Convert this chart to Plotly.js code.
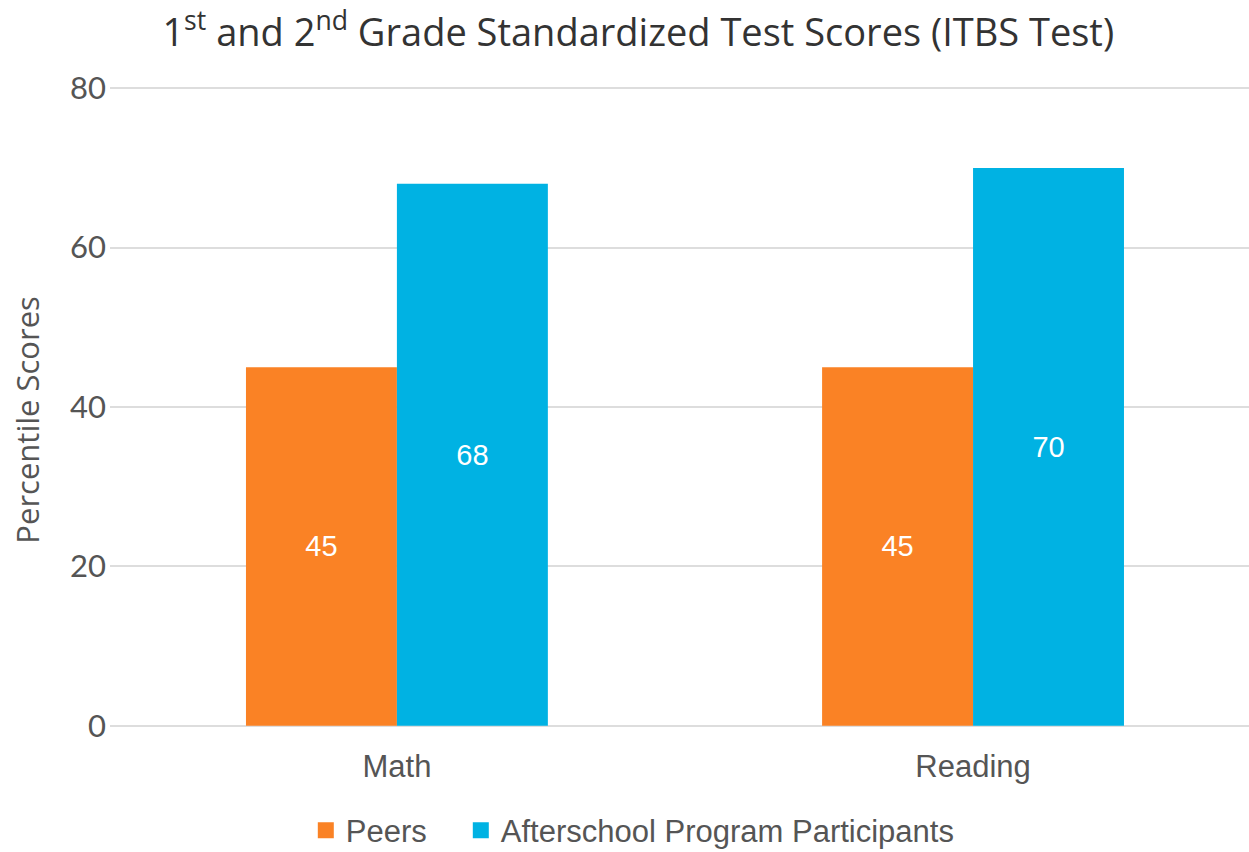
<!DOCTYPE html>
<html>
<head>
<meta charset="utf-8">
<script src="https://cdn.plot.ly/plotly-3.0.1.min.js"></script>
<style>html,body{margin:0;padding:0;background:#fff;}#chart{width:1249px;height:852px;}</style>
</head>
<body>
<div id="chart"></div>
<script>
const categories = ["Math", "Reading"];
const peers = [45, 45];
const participants = [68, 70];
const seriesNames = ["Peers", "Afterschool Program Participants"];
const seriesColors = ["#FA8225", "#00B2E3"];
const yTicks = [0, 20, 40, 60, 80];

const labelFont = {family: "Liberation Sans, Arial, sans-serif", size: 29, color: "#ffffff"};
const traces = [
  {
    type: "bar", name: seriesNames[0], x: categories, y: peers,
    marker: {color: seriesColors[0]}, showlegend: false,
    text: peers.map(String), textposition: "inside", insidetextanchor: "middle",
    textfont: labelFont, hoverinfo: "none"
  },
  {
    type: "bar", name: seriesNames[1], x: categories, y: participants,
    marker: {color: seriesColors[1]}, showlegend: false,
    text: participants.map(String), textposition: "inside", insidetextanchor: "middle",
    textfont: labelFont, hoverinfo: "none"
  }
];
// legend-only entries (no data points) so the legend squares can be larger
seriesNames.forEach((n, i) => traces.push({
  type: "scatter", mode: "markers", name: n, x: [null], y: [null],
  marker: {symbol: "square", size: 17, color: seriesColors[i]},
  showlegend: true, hoverinfo: "none",
  legendwidth: i === 0 ? 110 : undefined
}));

const layout = {
  width: 1249, height: 852,
  margin: {l: 110, r: 0, t: 87, b: 125, autoexpand: false},
  paper_bgcolor: "#ffffff", plot_bgcolor: "#ffffff",
  title: {
    text: "1<sup>st</sup> and 2<sup>nd</sup> Grade Standardized Test Scores (ITBS Test)",
    font: {family: "Open Sans, Noto Sans, sans-serif", size: 38, color: "#333333"},
    x: 0.511, xanchor: "center", y: 0.962, yanchor: "middle"
  },
  barmode: "group",
  bargap: 0.476, bargroupgap: 0,
  xaxis: {
    range: [-0.498, 1.479], automargin: false,
    showgrid: false, zeroline: false, showline: false,
    tickfont: {family: "Liberation Sans, Arial, sans-serif", size: 31, color: "#555555"},
    ticks: "", ticklabelstandoff: 18
  },
  yaxis: {
    range: [-0.15, 80.15], automargin: false,
    tickvals: yTicks, ticktext: yTicks.map(String),
    showgrid: true, gridcolor: "#dddddd", gridwidth: 2,
    zeroline: false, showline: false,
    ticks: "", ticklabelstandoff: 3,
    tickfont: {family: "Lato, Noto Sans, sans-serif", size: 31, color: "#555555"}
  },
  annotations: [{
    text: "Percentile Scores", textangle: -90, showarrow: false,
    xref: "paper", yref: "paper", x: -0.073, y: 0.48, xanchor: "center", yanchor: "middle",
    font: {family: "Open Sans, Noto Sans, sans-serif", size: 31, color: "#555555"}
  }],
  legend: {
    orientation: "h", x: 0.459, xanchor: "center", y: -0.162, yanchor: "middle",
    font: {family: "Liberation Sans, Arial, sans-serif", size: 31, color: "#555555"},
    traceorder: "normal", itemwidth: 30
  },
  showlegend: true
};

Plotly.newPlot("chart", traces, layout, {displayModeBar: false, staticPlot: true});
</script>
</body>
</html>
